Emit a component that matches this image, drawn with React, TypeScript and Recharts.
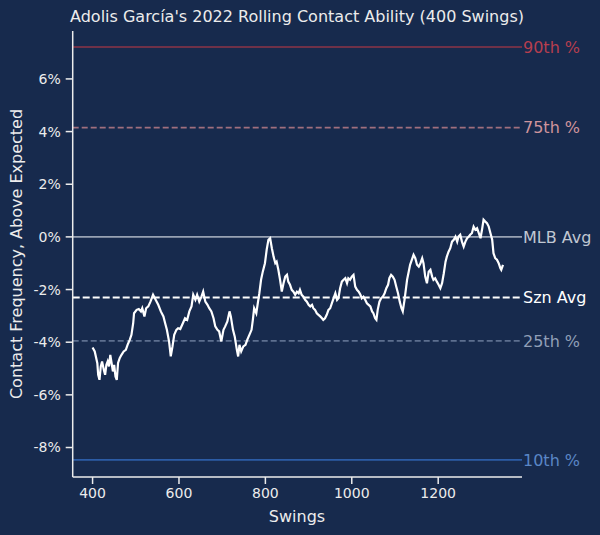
import { LineChart, Line, XAxis, YAxis, ReferenceLine } from 'recharts';

// rolling 400-swing contact rate above expected, [swing #, %]
const rollingContact: [number, number][] = [
  [400, -4.2], [405, -4.35], [411, -4.8], [413, -5.24], [416, -5.43], [419, -4.92], [422, -4.73],
  [426, -5.05], [429, -5.24], [432, -4.86], [435, -4.73], [438, -4.92], [441, -4.48], [444, -4.79],
  [447, -5.11], [450, -4.86], [453, -5.3], [456, -5.43], [459, -4.79], [463, -4.6], [467, -4.48],
  [472, -4.35], [477, -4.29], [481, -4.1], [486, -3.91], [490, -3.72], [494, -3.28], [496, -2.9],
  [502, -2.77], [507, -2.74], [512, -2.83], [515, -2.71], [520, -3.02], [524, -2.71], [529, -2.64],
  [534, -2.46], [540, -2.2], [546, -2.39], [552, -2.58], [558, -2.83], [564, -3.02], [568, -3.28],
  [572, -3.53], [577, -3.97], [581, -4.54], [585, -4.16], [589, -3.72], [594, -3.53], [598, -3.47],
  [603, -3.5], [609, -3.28], [614, -3.09], [619, -3.15], [624, -2.83], [629, -2.64], [633, -2.2],
  [638, -2.39], [642, -2.2], [647, -2.46], [652, -2.27], [656, -2.08], [661, -2.46], [666, -2.58],
  [670, -2.71], [675, -2.83], [680, -3.09], [684, -3.4], [689, -3.53], [693, -3.59], [698, -3.97],
  [703, -3.53], [707, -3.4], [712, -3.21], [717, -2.83], [720, -3.02], [725, -3.53], [729, -3.78],
  [734, -4.29], [737, -4.54], [740, -4.1], [744, -4.35], [749, -4.16], [754, -4.1], [758, -3.91],
  [763, -3.72], [768, -3.53], [771, -3.15], [774, -2.71], [779, -2.9], [783, -2.46], [786, -2.14],
  [790, -1.63], [794, -1.32], [799, -1.0], [803, -0.49], [807, -0.11], [811, -0.05], [815, -0.43],
  [819, -0.75], [823, -1.0], [826, -0.94], [830, -1.25], [834, -1.63], [838, -2.08], [842, -1.76],
  [846, -1.51], [850, -1.44], [853, -1.7], [857, -1.82], [861, -2.01], [865, -2.08], [869, -2.2],
  [873, -2.08], [877, -2.14], [880, -2.01], [884, -2.2], [888, -2.27], [892, -2.39], [896, -2.46],
  [900, -2.58], [904, -2.64], [908, -2.58], [911, -2.71], [915, -2.77], [919, -2.9], [923, -2.96],
  [927, -3.02], [931, -3.09], [934, -3.15], [938, -3.09], [942, -2.96], [946, -2.77], [950, -2.71],
  [954, -2.52], [958, -2.33], [962, -2.14], [966, -2.39], [969, -2.33], [973, -1.95], [977, -1.7],
  [981, -1.63], [985, -1.57], [989, -1.76], [992, -1.57], [996, -1.63], [1000, -1.51], [1004, -1.44],
  [1008, -1.89], [1012, -2.01], [1016, -2.08], [1020, -2.2], [1023, -2.33], [1027, -2.27], [1031, -2.39],
  [1035, -2.52], [1039, -2.58], [1043, -2.64], [1047, -2.83], [1050, -2.9], [1054, -3.09], [1057, -3.15],
  [1060, -2.77], [1064, -2.46], [1068, -2.33], [1072, -2.27], [1076, -2.14], [1080, -1.95], [1084, -1.82],
  [1087, -1.57], [1091, -1.44], [1095, -1.51], [1099, -1.63], [1103, -1.89], [1107, -2.14], [1111, -2.46],
  [1115, -2.71], [1118, -2.83], [1122, -2.4], [1128, -1.63], [1135, -1.06], [1143, -0.68], [1147, -0.81],
  [1151, -1.06], [1155, -1.13], [1159, -1.0], [1163, -0.81], [1166, -1.0], [1170, -1.51], [1174, -1.76],
  [1178, -1.32], [1182, -1.25], [1186, -1.51], [1189, -1.63], [1193, -1.57], [1197, -1.7], [1201, -1.82],
  [1205, -1.95], [1209, -1.76], [1213, -1.38], [1217, -0.94], [1220, -0.75], [1224, -0.56], [1228, -0.43],
  [1232, -0.18], [1236, -0.11], [1240, 0.01], [1244, -0.18], [1247, 0.01], [1251, 0.08], [1255, -0.18],
  [1259, -0.37], [1263, -0.18], [1267, -0.05], [1271, 0.01], [1274, 0.08], [1278, 0.14], [1282, 0.39],
  [1286, 0.27], [1290, 0.33], [1294, 0.14], [1298, -0.05], [1302, 0.33], [1305, 0.65], [1309, 0.58],
  [1313, 0.52], [1317, 0.39], [1321, 0.14], [1325, -0.11], [1328, -0.62], [1332, -0.81], [1336, -0.87],
  [1340, -1.0], [1344, -1.19], [1346, -1.25], [1350, -1.06],
];

const refNames = ['90th %', '75th %', 'MLB Avg', 'Szn Avg', '25th %', '10th %'];
const refValues = [7.21, 4.15, 0, -2.3, -3.95, -8.47];
const refLine = ['#8e3447', '#a06f7e', '#98a2b3', '#ffffff', '#5d6f8f', '#2c5ca6'];
const refText = ['#b63e4f', '#cf949c', '#c0c7d2', '#ffffff', '#909fb7', '#5a86c6'];
const refDash = ['', '6 3', '', '7 3', '6 3', ''];

const xTicks = [400, 600, 800, 1000, 1200];
const yTicks = [-8, -6, -4, -2, 0, 2, 4, 6];

const BG = '#172a4d';
const FG = '#ececec';

export default function App() {
  const data = rollingContact.map(([s, v]) => ({ s, v }));

  return (
    <div style={{ position: 'absolute', left: 0, top: 0, width: 600, height: 535, background: BG, fontFamily: 'DejaVu Sans' }}>
      <LineChart width={600} height={535} data={data} margin={{ top: 31, right: 78, bottom: 0, left: 0 }}>
        <XAxis
          dataKey="s"
          type="number"
          domain={[354, 1394]}
          ticks={xTicks}
          allowDataOverflow
          stroke={FG}
          strokeWidth={1.5}
          tickSize={7}
          tickMargin={4}
          height={58}
          tick={{ fill: FG, fontSize: 14 }}
        />
        <YAxis
          type="number"
          domain={[-9.12, 7.82]}
          ticks={yTicks}
          allowDataOverflow
          width={72.7}
          stroke={FG}
          strokeWidth={1.5}
          tickSize={7}
          tickMargin={5}
          tickFormatter={(v) => `${v}%`}
          tick={{ fill: FG, fontSize: 14 }}
        />
        {refValues.map((y, i) => (
          <ReferenceLine
            key={refNames[i]}
            y={y}
            stroke={refLine[i]}
            strokeWidth={i === 3 ? 2 : 1.6}
            strokeDasharray={refDash[i]}
            ifOverflow="extendDomain"
            label={{ value: refNames[i], position: 'right', offset: 1, fill: refText[i], fontSize: 16 }}
          />
        ))}
        <Line
          dataKey="v"
          type="linear"
          stroke="#ffffff"
          strokeWidth={2.2}
          dot={false}
          isAnimationActive={false}
        />
        <text x={297} y={22} textAnchor="middle" fill={FG} fontSize={16}>
          Adolis García's 2022 Rolling Contact Ability (400 Swings)
        </text>
        <text x={297} y={522} textAnchor="middle" fill={FG} fontSize={16}>
          Swings
        </text>
        <text x={22} y={254} textAnchor="middle" fill={FG} fontSize={16} transform="rotate(-90, 22, 254)">
          Contact Frequency, Above Expected
        </text>
      </LineChart>
    </div>
  );
}
